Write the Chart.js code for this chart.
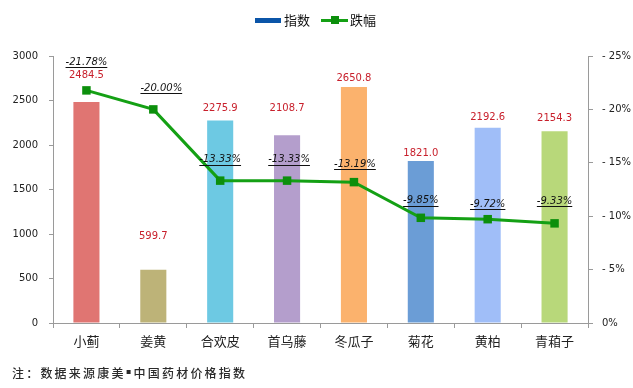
<!DOCTYPE html>
<html>
<head>
<meta charset="utf-8">
<script src="https://cdn.jsdelivr.net/npm/chart.js@4"></script>
<style>
    html, body { margin: 0; padding: 0; background: #fff; }
    #wrap { width: 633px; height: 388px; }
</style>
</head>
<body>
<div id="wrap"><canvas id="herb-chart" width="633" height="388"></canvas></div>
<script>
const categories = ["小蓟", "姜黄", "合欢皮", "首乌藤", "冬瓜子", "菊花", "黄柏", "青葙子"];
const indexValues = [2484.5, 599.7, 2275.9, 2108.7, 2650.8, 1821.0, 2192.6, 2154.3];
const dropValues = [-21.78, -20.00, -13.33, -13.33, -13.19, -9.85, -9.72, -9.33];
const leftTicks = [0, 500, 1000, 1500, 2000, 2500, 3000];
const rightTicks = [0, -5, -10, -15, -20, -25];

const barColors = ["#E07572", "#BDB378", "#6DC9E3", "#B49ECC", "#FBB26D", "#6B9DD6", "#A0BEF8", "#B8D87A"];
// how far above the bar top / point each label sits (px), as in the source picture
const barLabelLift = [26, 33, 12, 27, 9, 8, 10, 13];
const lineLabelLift = [28, 21, 21, 21, 18, 17, 15, 22];
const lineLabelShift = [0, 8, 0, 2, 1, 0, 0, 0];

const numFont = "DejaVu Sans";
const cjkFont = "Noto Sans CJK SC";

document.addEventListener("DOMContentLoaded", () => {
    const canvas = document.getElementById("herb-chart");

    const labelsPlugin = {
        id: "valueLabels",
        afterDatasetsDraw(chart) {
            const ctx = chart.ctx;
            ctx.save();
            ctx.textAlign = "center";
            ctx.textBaseline = "middle";

            // bar values in red
            ctx.font = `10px "${numFont}"`;
            ctx.fillStyle = "#C8202C";
            chart.getDatasetMeta(0).data.forEach((bar, i) => {
                ctx.fillText(indexValues[i].toFixed(1), bar.x, bar.y - barLabelLift[i]);
            });

            // line values, italic and underlined
            ctx.font = `italic 10px "${numFont}"`;
            ctx.fillStyle = "#111";
            ctx.strokeStyle = "#111";
            ctx.lineWidth = 1;
            chart.getDatasetMeta(1).data.forEach((pt, i) => {
                const text = dropValues[i].toFixed(2) + "%";
                const x = pt.x + lineLabelShift[i];
                const y = pt.y - lineLabelLift[i];
                ctx.fillText(text, x, y);
                const w = ctx.measureText(text).width;
                ctx.beginPath();
                ctx.moveTo(x - w / 2, Math.round(y + 5) + 0.5);
                ctx.lineTo(x + w / 2, Math.round(y + 5) + 0.5);
                ctx.stroke();
            });
            ctx.restore();
        },
    };

    const legendAndNotePlugin = {
        id: "legendAndNote",
        afterDraw(chart) {
            const ctx = chart.ctx;
            const sets = chart.data.datasets;
            ctx.save();
            ctx.textBaseline = "middle";
            ctx.textAlign = "left";
            ctx.font = `13px "${cjkFont}"`;
            ctx.fillStyle = "#111";

            // bar legend
            ctx.fillStyle = "#0B55A8";
            ctx.fillRect(255, 18, 26, 5);
            ctx.fillStyle = "#111";
            ctx.fillText(sets[0].label, 284, 20);

            // line legend
            ctx.strokeStyle = sets[1].borderColor;
            ctx.lineWidth = 3;
            ctx.beginPath();
            ctx.moveTo(321, 20.5);
            ctx.lineTo(348, 20.5);
            ctx.stroke();
            ctx.fillStyle = sets[1].pointBackgroundColor;
            ctx.fillRect(331, 16, 8, 8);
            ctx.fillStyle = "#111";
            ctx.fillText(sets[1].label, 350, 20);

            // source note
            ctx.font = `500 12px "${cjkFont}"`;
            ctx.fillStyle = "#2a2a2a";
            ctx.letterSpacing = "2.2px";
            const parts = ["注：数据来源康美", "中国药材价格指数"];
            let x = 12;
            ctx.fillText(parts[0], x, 373);
            x += ctx.measureText(parts[0]).width + 1;
            ctx.fillRect(x, 370, 4, 4);
            x += 7;
            ctx.fillText(parts[1], x, 373);
            ctx.restore();
        },
    };

    new Chart(canvas, {
        type: "bar",
        data: {
            labels: categories,
            datasets: [
                {
                    type: "bar",
                    label: "指数",
                    data: indexValues,
                    backgroundColor: barColors,
                    yAxisID: "y",
                    categoryPercentage: 1,
                    barPercentage: 0.39,
                    order: 2,
                },
                {
                    type: "line",
                    label: "跌幅",
                    data: dropValues,
                    yAxisID: "y1",
                    borderColor: "#14A014",
                    borderWidth: 3,
                    pointStyle: "rect",
                    pointRadius: 6,
                    pointHoverRadius: 6,
                    pointBackgroundColor: "#0C8F0C",
                    pointBorderWidth: 0,
                    tension: 0,
                    order: 1,
                },
            ],
        },
        options: {
            responsive: false,
            animation: false,
            events: [],
            layout: { padding: { top: 56, left: 0, right: 0, bottom: 0 } },
            plugins: {
                legend: { display: false },
                tooltip: { enabled: false },
            },
            scales: {
                x: {
                    grid: {
                        offset: true,
                        drawOnChartArea: false,
                        tickLength: 5,
                        color: "#9A9A9A",
                    },
                    border: { color: "#9A9A9A", width: 1 },
                    ticks: {
                        color: "#222",
                        font: { family: cjkFont, size: 13 },
                        padding: 5,
                        maxRotation: 0,
                    },
                    afterFit(scale) {
                        scale.height = 65;
                    },
                },
                y: {
                    position: "left",
                    min: 0,
                    max: 3000,
                    afterBuildTicks(scale) {
                        scale.ticks = leftTicks.map((v) => ({ value: v }));
                    },
                    grid: {
                        drawOnChartArea: false,
                        tickLength: 4,
                        color: "#9A9A9A",
                    },
                    border: { color: "#9A9A9A", width: 1 },
                    ticks: {
                        color: "#222",
                        font: { family: numFont, size: 10 },
                        padding: 11,
                        callback: (v) => String(v),
                    },
                    afterFit(scale) {
                        scale.width = 53;
                    },
                },
                y1: {
                    position: "right",
                    min: -25,
                    max: 0,
                    reverse: true,
                    afterBuildTicks(scale) {
                        scale.ticks = rightTicks.map((v) => ({ value: v }));
                    },
                    grid: {
                        drawOnChartArea: false,
                        tickLength: 5,
                        color: "#9A9A9A",
                    },
                    border: { color: "#9A9A9A", width: 1 },
                    ticks: {
                        color: "#222",
                        font: { family: numFont, size: 10 },
                        padding: 9,
                        callback: (v) => (v === 0 ? "0%" : "- " + -v + "%"),
                    },
                    afterFit(scale) {
                        scale.width = 45;
                    },
                },
            },
        },
        plugins: [labelsPlugin, legendAndNotePlugin],
    });
});
</script>
</body>
</html>
